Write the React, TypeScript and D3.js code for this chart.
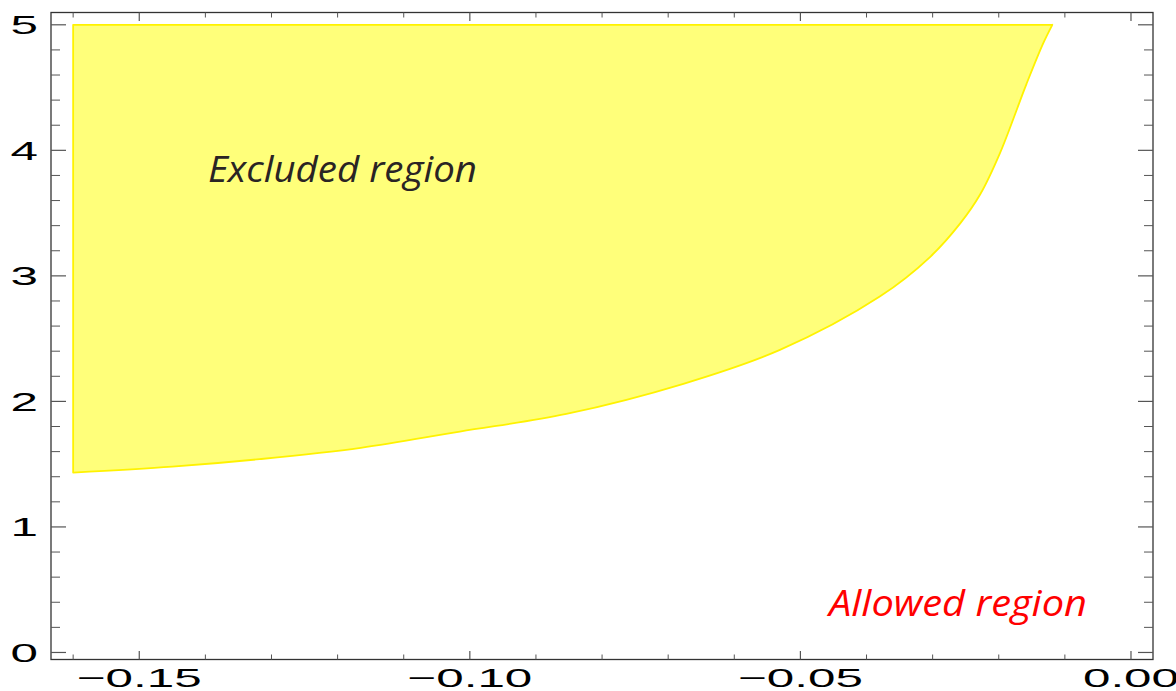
import React from "react";
import * as d3 from "d3";

// Lower boundary of the excluded region
const boundaryX = [-0.16, -0.145, -0.1318, -0.1165, -0.1015, -0.0854, -0.0677, -0.0531, -0.038, -0.0304, -0.0258, -0.0228, -0.0198, -0.0158, -0.0133, -0.0119];
const boundaryY = [1.433, 1.48, 1.54, 1.63, 1.76, 1.9, 2.14, 2.41, 2.835, 3.15, 3.42, 3.65, 3.98, 4.53, 4.85, 5.0];
const regionTop = 5;

const xMajorTicks = [-0.15, -0.1, -0.05, 0.0];
const xMajorLabels = ["\u22120.15", "\u22120.10", "\u22120.05", "0.00"];
const xMinorTicks = [-0.16, -0.14, -0.13, -0.12, -0.11, -0.09, -0.08, -0.07, -0.06, -0.04, -0.03, -0.02, -0.01];
const yMajorTicks = [0, 1, 2, 3, 4, 5];
const yMajorLabels = ["0", "1", "2", "3", "4", "5"];
const yMinorTicks = [0.2, 0.4, 0.6, 0.8, 1.2, 1.4, 1.6, 1.8, 2.2, 2.4, 2.6, 2.8, 3.2, 3.4, 3.6, 3.8, 4.2, 4.4, 4.6, 4.8];

const excludedLabel = "Excluded region";
const allowedLabel = "Allowed region";

const W = 1176;
const H = 691;
const xDomain: [number, number] = [-0.16335, 0.00333];
const yDomain: [number, number] = [-0.056, 5.098];

export default function App() {
  const x = d3.scaleLinear().domain(xDomain).range([51, 1153]);
  const y = d3.scaleLinear().domain(yDomain).range([659.5, 12.5]);

  const left = x(xDomain[0]);
  const right = x(xDomain[1]);
  const top = y(yDomain[1]);
  const bottom = y(yDomain[0]);

  const pts: [number, number][] = boundaryX.map((v, i) => [v, boundaryY[i]]);
  const curve = d3
    .line<[number, number]>()
    .x((d) => x(d[0]))
    .y((d) => y(d[1]))
    .curve(d3.curveCatmullRom.alpha(0.5))(pts) as string;
  const lastX = boundaryX[boundaryX.length - 1];
  const firstX = boundaryX[0];
  const regionPath =
    curve +
    `L${x(lastX)},${y(regionTop)}L${x(firstX)},${y(regionTop)}Z`;

  const tickColor = "#555";
  const labelFont = "'Liberation Sans', Arial, sans-serif";
  const sx = 1.9;

  return (
    <svg
      width={W}
      height={H}
      style={{ position: "absolute", left: 0, top: 0, background: "#fff" }}
    >
      <path d={regionPath} fill="#ffff7a" stroke="#fff200" strokeWidth={1.8} strokeLinejoin="round" />

      {/* frame */}
      <rect x={left} y={top} width={right - left} height={bottom - top} fill="none" stroke="#333" strokeWidth={1.3} />

      {/* x ticks bottom & top */}
      {xMajorTicks.map((t) => (
        <g key={"xm" + t}>
          <line x1={x(t)} x2={x(t)} y1={bottom} y2={bottom - 8.5} stroke={tickColor} strokeWidth={1.2} />
          <line x1={x(t)} x2={x(t)} y1={top} y2={top + 8.5} stroke={tickColor} strokeWidth={1.2} />
        </g>
      ))}
      {xMinorTicks.map((t) => (
        <g key={"xn" + t}>
          <line x1={x(t)} x2={x(t)} y1={bottom} y2={bottom - 5} stroke={tickColor} strokeWidth={1} />
          <line x1={x(t)} x2={x(t)} y1={top} y2={top + 5} stroke={tickColor} strokeWidth={1} />
        </g>
      ))}
      {/* y ticks left & right */}
      {yMajorTicks.map((t) => (
        <g key={"ym" + t}>
          <line x1={left} x2={left + 15} y1={y(t)} y2={y(t)} stroke={tickColor} strokeWidth={1.2} />
          <line x1={right} x2={right - 15} y1={y(t)} y2={y(t)} stroke={tickColor} strokeWidth={1.2} />
        </g>
      ))}
      {yMinorTicks.map((t) => (
        <g key={"yn" + t}>
          <line x1={left} x2={left + 9} y1={y(t)} y2={y(t)} stroke={tickColor} strokeWidth={1} />
          <line x1={right} x2={right - 9} y1={y(t)} y2={y(t)} stroke={tickColor} strokeWidth={1} />
        </g>
      ))}

      {/* tick labels */}
      {xMajorTicks.map((t, i) => (
        <g key={"xl" + t} transform={`translate(${x(t)},${687}) scale(${sx},1)`}>
          <text textAnchor="middle" fontFamily={labelFont} fontSize={26} fill="#000">
            {xMajorLabels[i]}
          </text>
        </g>
      ))}
      {yMajorTicks.map((t, i) => (
        <g key={"yl" + t} transform={`translate(38,${y(t) + 9.5}) scale(${sx},1)`}>
          <text textAnchor="end" fontFamily={labelFont} fontSize={26} fill="#000">
            {yMajorLabels[i]}
          </text>
        </g>
      ))}

      {/* annotations */}
      <text
        x={208}
        y={181.5}
        fontFamily="'Open Sans', 'Noto Sans', sans-serif"
        fontStyle="italic"
        fontSize={36}
        fill="#2a2424"
        textLength={269}
        lengthAdjust="spacingAndGlyphs"
      >
        {excludedLabel}
      </text>
      <text
        x={829}
        y={616}
        fontFamily="'Open Sans', 'Noto Sans', sans-serif"
        fontStyle="italic"
        fontSize={36}
        fill="#ff0000"
        textLength={258}
        lengthAdjust="spacingAndGlyphs"
      >
        {allowedLabel}
      </text>
    </svg>
  );
}
